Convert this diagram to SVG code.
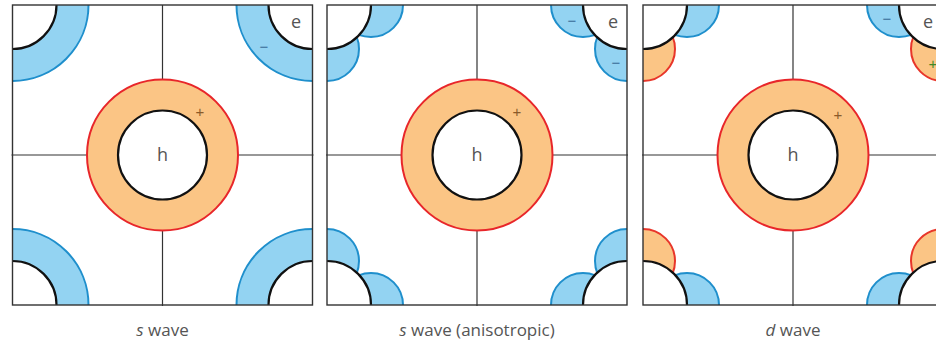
<svg xmlns="http://www.w3.org/2000/svg" width="936" height="341" viewBox="0 0 936 341">
<style>
.bg{fill:#ffffff}
.frame{stroke:#333;stroke-width:1.4;fill:none}
.axis{stroke:#333;stroke-width:1.2}
.ring{fill:#fbc585;stroke:#e8262a;stroke-width:2}
.hole{fill:#ffffff;stroke:#111;stroke-width:2.2}
.blue{fill:#93d3f2;stroke:#1f8fcc;stroke-width:2}
.orange{fill:#fbc585;stroke:#e8362a;stroke-width:2}
.pocket{fill:#ffffff;stroke:#111;stroke-width:2.2}
.t{font-family:"Open Sans","Liberation Sans",sans-serif;fill:#555;font-size:18px;text-anchor:middle}
.lab{font-family:"Open Sans","Liberation Sans",sans-serif;fill:#555;font-size:17px;text-anchor:middle}
.sg{font-family:"Liberation Sans",sans-serif;font-size:15px;text-anchor:middle}
</style>
<defs>
<clipPath id="c1"><rect x="12.5" y="5" width="300" height="300"/></clipPath>
<clipPath id="c2"><rect x="327" y="5" width="300" height="300"/></clipPath>
<clipPath id="c3"><rect x="643" y="5" width="300" height="300"/></clipPath>
</defs>
<rect class="bg" width="936" height="341"/>

<!-- Panel 1: s wave -->
<g id="panel-s-wave">
  <g id="p1-pockets" clip-path="url(#c1)">
    <circle class="blue" cx="12.5" cy="5" r="76"/>
    <circle class="blue" cx="312.5" cy="5" r="76"/>
    <circle class="blue" cx="12.5" cy="305" r="76"/>
    <circle class="blue" cx="312.5" cy="305" r="76"/>
    <circle class="pocket" cx="12.5" cy="5" r="44"/>
    <circle class="pocket" cx="312.5" cy="5" r="44"/>
    <circle class="pocket" cx="12.5" cy="305" r="44"/>
    <circle class="pocket" cx="312.5" cy="305" r="44"/>
  </g>
  <g id="p1-connectors">
    <line class="axis" x1="162.5" y1="5" x2="162.5" y2="306"/>
    <line class="axis" x1="11.5" y1="155" x2="313.5" y2="155"/>
    <rect class="frame" x="12.5" y="5" width="300" height="300"/>
  </g>
  <g id="p1-hole">
    <circle class="ring" cx="162.5" cy="155" r="75.5"/>
    <circle class="hole" cx="162.5" cy="155" r="44.5"/>
    <text class="t" x="162.5" y="161">h</text>
    <text class="sg" x="200" y="117" fill="#8a5a2a">+</text>
  </g>
  <text class="t" x="296" y="28">e</text>
  <text class="sg" x="264" y="52" fill="#3a6f99">−</text>
  <text class="lab" x="162.5" y="336"><tspan font-style="italic">s</tspan> wave</text>
</g>

<!-- Panel 2: s wave (anisotropic) -->
<g id="panel-s-wave-anisotropic">
  <g id="p2-pockets" clip-path="url(#c2)">
    <circle class="blue" cx="371" cy="5" r="32"/>
    <circle class="blue" cx="327" cy="49" r="32"/>
    <circle class="blue" cx="583" cy="5" r="32"/>
    <circle class="blue" cx="627" cy="49" r="32"/>
    <circle class="blue" cx="371" cy="305" r="32"/>
    <circle class="blue" cx="327" cy="261" r="32"/>
    <circle class="blue" cx="583" cy="305" r="32"/>
    <circle class="blue" cx="627" cy="261" r="32"/>
    <circle class="pocket" cx="327" cy="5" r="44"/>
    <circle class="pocket" cx="627" cy="5" r="44"/>
    <circle class="pocket" cx="327" cy="305" r="44"/>
    <circle class="pocket" cx="627" cy="305" r="44"/>
  </g>
  <g id="p2-connectors">
    <line class="axis" x1="477" y1="5" x2="477" y2="306"/>
    <line class="axis" x1="326" y1="155" x2="628" y2="155"/>
    <rect class="frame" x="327" y="5" width="300" height="300"/>
  </g>
  <g id="p2-hole">
    <circle class="ring" cx="477" cy="155" r="75.5"/>
    <circle class="hole" cx="477" cy="155" r="44.5"/>
    <text class="t" x="477" y="161">h</text>
    <text class="sg" x="517" y="117" fill="#8a5a2a">+</text>
  </g>
  <text class="t" x="613" y="28">e</text>
  <text class="sg" x="572" y="26" fill="#3a6f99">−</text>
  <text class="sg" x="616" y="68" fill="#3a6f99">−</text>
  <text class="lab" x="477" y="336"><tspan font-style="italic">s</tspan> wave (anisotropic)</text>
</g>

<!-- Panel 3: d wave -->
<g id="panel-d-wave">
  <g id="p3-pockets" clip-path="url(#c3)">
    <circle class="blue" cx="687" cy="5" r="32"/>
    <circle class="orange" cx="643" cy="49" r="32"/>
    <circle class="blue" cx="899" cy="5" r="32"/>
    <circle class="orange" cx="943" cy="49" r="32"/>
    <circle class="blue" cx="687" cy="305" r="32"/>
    <circle class="orange" cx="643" cy="261" r="32"/>
    <circle class="blue" cx="899" cy="305" r="32"/>
    <circle class="orange" cx="943" cy="261" r="32"/>
    <circle class="pocket" cx="643" cy="5" r="44"/>
    <circle class="pocket" cx="943" cy="5" r="44"/>
    <circle class="pocket" cx="643" cy="305" r="44"/>
    <circle class="pocket" cx="943" cy="305" r="44"/>
  </g>
  <g id="p3-connectors">
    <line class="axis" x1="793" y1="5" x2="793" y2="306"/>
    <line class="axis" x1="642" y1="155" x2="944" y2="155"/>
    <rect class="frame" x="643" y="5" width="300" height="300"/>
  </g>
  <g id="p3-hole">
    <circle class="ring" cx="793" cy="155" r="75.5"/>
    <circle class="hole" cx="793" cy="155" r="44.5"/>
    <text class="t" x="793" y="161">h</text>
    <text class="sg" x="838" y="120" fill="#8a5a2a">+</text>
  </g>
  <text class="t" x="928" y="28">e</text>
  <text class="sg" x="887" y="24" fill="#3a6f99">−</text>
  <text class="sg" x="933" y="69" fill="#3f8a2a">+</text>
  <text class="lab" x="793" y="336"><tspan font-style="italic">d</tspan> wave</text>
</g>
</svg>
